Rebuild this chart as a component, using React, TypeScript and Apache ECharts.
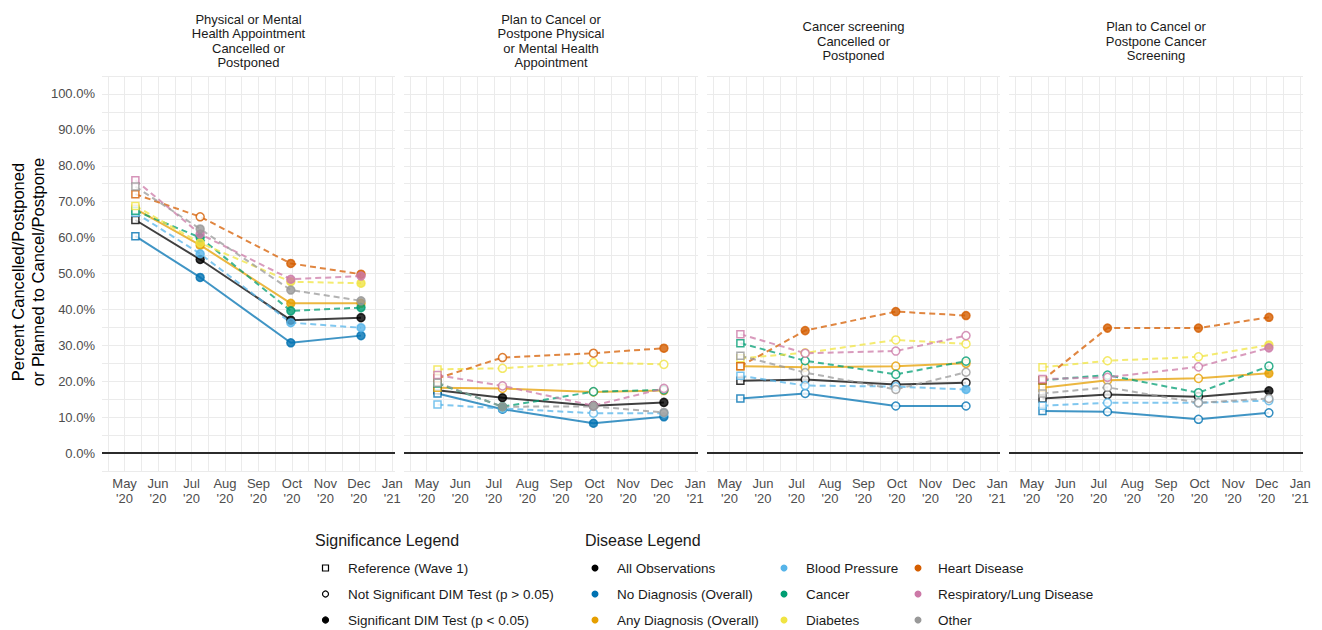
import React, { useEffect, useRef } from 'react';
import * as echarts from 'echarts';

// Facet titles
const panelTitles = [
  'Physical or Mental\nHealth Appointment\nCancelled or\nPostponed',
  'Plan to Cancel or\nPostpone Physical\nor Mental Health\nAppointment',
  'Cancer screening\nCancelled or\nPostponed',
  'Plan to Cancel or\nPostpone Cancer\nScreening',
];

// Survey wave dates (x positions of the points)
const waveDates = ['2020-05-11', '2020-07-09', '2020-09-30', '2020-12-03'];

// X tick labels (months from May '20 to Jan '21)
const monthNames = ['May', 'Jun', 'Jul', 'Aug', 'Sep', 'Oct', 'Nov', 'Dec', 'Jan'];
const monthYears = ["'20", "'20", "'20", "'20", "'20", "'20", "'20", "'20", "'21"];

// Y tick values (percent)
const yTickValues = [0, 10, 20, 30, 40, 50, 60, 70, 80, 90, 100];

// Percent per panel (rows) and wave (columns)
// Significance codes: R = reference (wave 1), N = not significant, S = significant
const allObservations = [[64.9, 53.9, 37.0, 37.7], [17.5, 15.4, 13.2, 14.1], [20.1, 20.5, 19.1, 19.6], [15.2, 16.3, 15.7, 17.3]];
const allObservationsSig = ['RSSS', 'RSSS', 'RNNN', 'RNNS'];

const noDiagnosis = [[60.4, 48.9, 30.7, 32.7], [16.6, 12.2, 8.3, 10.1], [15.2, 16.6, 13.1, 13.1], [11.7, 11.5, 9.4, 11.2]];
const noDiagnosisSig = ['RSSS', 'RSSS', 'RNNN', 'RNNN'];

const anyDiagnosis = [[68.0, 57.9, 41.7, 41.7], [18.2, 18.0, 17.0, 17.4], [24.2, 23.9, 24.2, 25.0], [18.2, 20.3, 20.8, 22.2]];
const anyDiagnosisSig = ['RSSS', 'RNNN', 'RNNN', 'RNNS'];

const bloodPressure = [[66.9, 55.5, 36.3, 34.9], [13.5, 12.4, 11.1, 11.1], [21.5, 18.8, 18.5, 17.7], [13.2, 14.0, 14.0, 14.6]];
const bloodPressureSig = ['RSSS', 'RNNN', 'RNNS', 'RNNN'];

const cancer = [[67.5, 60.0, 39.6, 40.5], [19.4, 12.9, 17.1, 17.6], [30.6, 25.7, 21.9, 25.6], [20.3, 21.7, 16.8, 24.2]];
const cancerSig = ['RSSS', 'RSNN', 'RNNN', 'RNNN'];

const diabetes = [[68.8, 58.5, 47.7, 47.3], [23.3, 23.6, 25.2, 24.7], [26.4, 27.9, 31.5, 30.4], [23.9, 25.7, 26.8, 30.1]];
const diabetesSig = ['RSSS', 'RNNN', 'RNNN', 'RNNS'];

const heartDisease = [[72.1, 65.8, 52.8, 49.8], [20.8, 26.6, 27.8, 29.2], [24.2, 34.1, 39.4, 38.3], [20.3, 34.8, 34.8, 37.8]];
const heartDiseaseSig = ['RNSS', 'RNNS', 'RSSS', 'RSSS'];

const respiratory = [[76.0, 61.0, 48.4, 49.3], [21.7, 18.7, 13.2, 18.0], [33.1, 27.8, 28.4, 32.7], [20.6, 21.1, 24.0, 29.3]];
const respiratorySig = ['RSSS', 'RNNN', 'RNNN', 'RNNS'];

const other = [[74.2, 62.4, 45.4, 42.4], [19.6, 12.9, 13.0, 11.3], [27.1, 22.4, 17.7, 22.5], [16.6, 18.3, 14.0, 15.2]];
const otherSig = ['RSSS', 'RSSS', 'RNNN', 'RNNN'];

const groups = [
  { name: 'All Observations', color: '#000000', dashed: false, values: allObservations, sig: allObservationsSig },
  { name: 'No Diagnosis (Overall)', color: '#0072B2', dashed: false, values: noDiagnosis, sig: noDiagnosisSig },
  { name: 'Any Diagnosis (Overall)', color: '#E69F00', dashed: false, values: anyDiagnosis, sig: anyDiagnosisSig },
  { name: 'Blood Pressure', color: '#56B4E9', dashed: true, values: bloodPressure, sig: bloodPressureSig },
  { name: 'Cancer', color: '#009E73', dashed: true, values: cancer, sig: cancerSig },
  { name: 'Diabetes', color: '#F0E442', dashed: true, values: diabetes, sig: diabetesSig },
  { name: 'Heart Disease', color: '#D55E00', dashed: true, values: heartDisease, sig: heartDiseaseSig },
  { name: 'Respiratory/Lung Disease', color: '#CC79A7', dashed: true, values: respiratory, sig: respiratorySig },
  { name: 'Other', color: '#999999', dashed: true, values: other, sig: otherSig },
];

const significanceItems = ['Reference (Wave 1)', 'Not Significant DIM Test (p > 0.05)', 'Significant DIM Test (p < 0.05)'];

const FONT = '"Liberation Sans", Arial, Helvetica, sans-serif';
const GRID_COLOR = '#ebebeb';

// Months elapsed since 1 May 2020, fractional within the month
function monthOffset(iso: string): number {
  const [y, m, d] = iso.split('-').map(Number);
  const daysInMonth = new Date(Date.UTC(y, m, 0)).getUTCDate();
  return (y - 2020) * 12 + (m - 5) + (d - 1) / daysInMonth;
}

const panelBoxes = [
  { left: 102, width: 293 },
  { left: 404, width: 294 },
  { left: 707, width: 293 },
  { left: 1009, width: 294 },
];
const PLOT_TOP = 76;
const PLOT_HEIGHT = 395;

function buildOption() {
  const monthIdx = monthNames.map((_, i) => i);
  const halfMonths: number[] = [];
  for (let i = -1; i <= monthNames.length * 2 - 2; i++) halfMonths.push(i / 2);

  const grid = panelBoxes.map((b) => ({
    left: b.left,
    width: b.width,
    top: PLOT_TOP,
    height: PLOT_HEIGHT,
    outerBoundsMode: 'none',
    containLabel: false,
  }));

  const xAxis = panelBoxes.map((_, i) => ({
    type: 'value',
    gridIndex: i,
    min: -0.675,
    max: 8.08,
    axisLine: { show: false },
    axisTick: { show: false, customValues: halfMonths },
    axisLabel: {
      customValues: monthIdx,
      formatter: (v: number) => {
        const k = Math.round(v);
        return `${monthNames[k]}\n${monthYears[k]}`;
      },
      color: '#4d4d4d',
      fontSize: 13,
      lineHeight: 15,
      fontFamily: FONT,
      margin: 5,
    },
    splitLine: { show: true, lineStyle: { color: GRID_COLOR, width: 1 } },
  }));

  const yAxis = panelBoxes.map((_, i) => ({
    type: 'value',
    gridIndex: i,
    min: -5,
    max: 105,
    interval: 5,
    axisLine: { show: false },
    axisTick: { show: false },
    axisLabel: {
      show: i === 0,
      formatter: (v: number) => (yTickValues.indexOf(v) >= 0 ? `${v.toFixed(1)}%` : ''),
      color: '#4d4d4d',
      fontSize: 13,
      fontFamily: FONT,
      margin: 7,
    },
    splitLine: { show: true, lineStyle: { color: GRID_COLOR, width: 1 } },
  }));

  const series: any[] = [];
  panelBoxes.forEach((_, p) => {
    groups.forEach((g, gi) => {
      const pts = g.values[p].map((v, k) => [monthOffset(waveDates[k]), v]);
      const line: any = {
        type: 'line',
        name: g.name,
        xAxisIndex: p,
        yAxisIndex: p,
        data: pts,
        symbol: 'none',
        showSymbol: false,
        silent: true,
        z: 2,
        lineStyle: {
          color: g.color,
          width: 2,
          opacity: 0.75,
          type: g.dashed ? [6, 4] : 'solid',
        },
      };
      if (gi === 0) {
        line.markLine = {
          silent: true,
          symbol: 'none',
          label: { show: false },
          lineStyle: { color: '#2b2b2b', width: 2, type: 'solid' },
          data: [{ yAxis: 0 }],
        };
      }
      series.push(line);
      series.push({
        type: 'scatter',
        name: g.name,
        xAxisIndex: p,
        yAxisIndex: p,
        silent: true,
        z: 3,
        data: pts.map((pt, k) => {
          const code = g.sig[p][k];
          return {
            value: pt,
            symbol: code === 'R' ? 'rect' : 'circle',
            symbolSize: code === 'R' ? 7 : 8,
            itemStyle: {
              color: code === 'S' ? g.color : '#ffffff',
              borderColor: g.color,
              borderWidth: 1.5,
            },
          };
        }),
      });
    });
  });

  const graphic: any[] = [];

  // facet titles
  panelBoxes.forEach((b, i) => {
    graphic.push({
      type: 'text',
      x: b.left + b.width / 2,
      y: 41,
      silent: true,
      style: {
        text: panelTitles[i],
        align: 'center',
        verticalAlign: 'middle',
        fontSize: 13,
        lineHeight: 14.5,
        fontFamily: FONT,
        fill: '#1a1a1a',
      },
    });
  });

  // y axis title
  graphic.push({
    type: 'text',
    x: 28,
    y: 272,
    rotation: Math.PI / 2,
    silent: true,
    style: {
      text: 'Percent Cancelled/Postponed\nor Planned to Cancel/Postpone',
      align: 'center',
      verticalAlign: 'middle',
      fontSize: 16.5,
      lineHeight: 20,
      fontFamily: FONT,
      fill: '#000000',
    },
  });

  // significance legend
  const rowsY = [568, 594, 620];
  graphic.push({
    type: 'text',
    x: 315,
    y: 540,
    silent: true,
    style: { text: 'Significance Legend', fontSize: 16, fontFamily: FONT, fill: '#1a1a1a', align: 'left', verticalAlign: 'middle' },
  });
  significanceItems.forEach((label, i) => {
    const y = rowsY[i];
    if (i === 0) {
      graphic.push({ type: 'rect', silent: true, shape: { x: 322.5, y: y - 3, width: 6, height: 6 }, style: { fill: '#ffffff', stroke: '#000000', lineWidth: 1.2 } });
    } else {
      graphic.push({
        type: 'circle',
        silent: true,
        shape: { cx: 325.5, cy: y, r: 3 },
        style: { fill: i === 2 ? '#000000' : '#ffffff', stroke: '#000000', lineWidth: 1.2 },
      });
    }
    graphic.push({
      type: 'text',
      x: 348,
      y,
      silent: true,
      style: { text: label, fontSize: 13.5, fontFamily: FONT, fill: '#1a1a1a', align: 'left', verticalAlign: 'middle' },
    });
  });

  // disease legend
  graphic.push({
    type: 'text',
    x: 585,
    y: 540,
    silent: true,
    style: { text: 'Disease Legend', fontSize: 16, fontFamily: FONT, fill: '#1a1a1a', align: 'left', verticalAlign: 'middle' },
  });
  const colDot = [595, 784, 918];
  const colText = [617, 806, 938];
  groups.forEach((g, i) => {
    const col = Math.floor(i / 3);
    const y = rowsY[i % 3];
    graphic.push({ type: 'circle', silent: true, shape: { cx: colDot[col], cy: y, r: 3.5 }, style: { fill: g.color } });
    graphic.push({
      type: 'text',
      x: colText[col],
      y,
      silent: true,
      style: { text: g.name, fontSize: 13.5, fontFamily: FONT, fill: '#1a1a1a', align: 'left', verticalAlign: 'middle' },
    });
  });

  return {
    animation: false,
    backgroundColor: '#ffffff',
    textStyle: { fontFamily: FONT },
    grid,
    xAxis,
    yAxis,
    series,
    graphic,
  };
}

export default function App() {
  const ref = useRef<HTMLDivElement>(null);

  useEffect(() => {
    if (!ref.current) return;
    const chart = echarts.init(ref.current, undefined, { renderer: 'svg' });
    chart.setOption(buildOption() as any);
    return () => chart.dispose();
  }, []);

  return (
    <div
      ref={ref}
      style={{ position: 'fixed', left: 0, top: 0, width: 1322, height: 630, background: '#ffffff' }}
    />
  );
}
